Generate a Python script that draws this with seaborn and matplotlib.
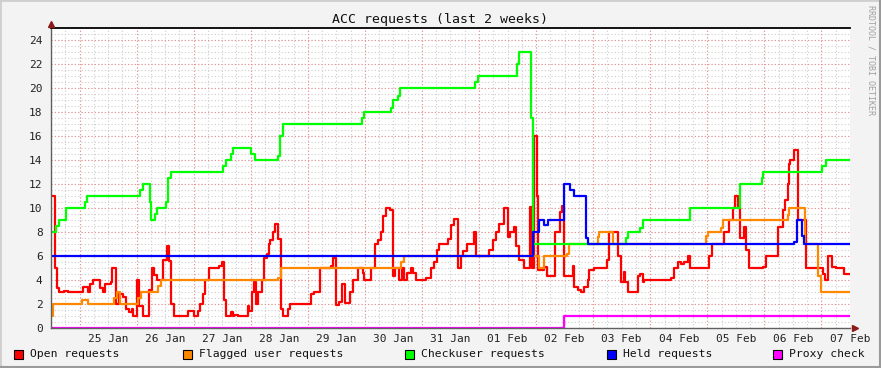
import numpy as np
import pandas as pd
import matplotlib
matplotlib.use("Agg")
import matplotlib.pyplot as plt
import seaborn as sns
from matplotlib.patches import Rectangle

# Time axis: hours since 24 Jan 12:00, two weeks long
span_h = 336
day_labels = ["25 Jan", "26 Jan", "27 Jan", "28 Jan", "29 Jan", "30 Jan", "31 Jan",
              "01 Feb", "02 Feb", "03 Feb", "04 Feb", "05 Feb", "06 Feb", "07 Feb"]

# Open requests (red)
open_t = [0, 1.7, 2.5, 3.5, 5.6, 7.0, 13.3, 15.7, 16.5, 17.5, 20.7, 21.7, 22.7, 25.2, 25.7,
          27.3, 28.7, 30.2, 31.5, 32.9, 34.1, 34.6, 36.2, 37.1, 38.6, 41.3, 42.3, 43.4, 44.4,
          47.2, 48.7, 49.7, 50.5, 51.9, 57.5, 60.3, 61.7, 62.7, 63.8, 64.8, 66.6, 70.8, 71.8,
          72.9, 73.6, 75.7, 76.7, 77.1, 78.5, 82.7, 83.4, 84.4, 85.5, 86.2, 87.2, 88.6, 89.7,
          90.7, 91.5, 92.2, 93.2, 94.2, 95.3, 96.7, 97.7, 99.8, 100.6, 109.3, 110.7, 113.1,
          117.7, 118.5, 119.8, 121.0, 122.4, 123.6, 125.7, 126.9, 129.0, 131.1, 131.7, 134.6,
          136.4, 137.4, 138.8, 139.7, 140.9, 142.6, 143.7, 144.7, 146.5, 147.6, 148.6, 149.6,
          151.4, 152.1, 153.5, 157.7, 159.8, 160.9, 162.3, 163.3, 166.8, 168.2, 169.3, 171.0,
          172.4, 173.1, 174.9, 178.0, 178.7, 184.3, 185.7, 187.1, 188.5, 190.6, 192.0, 193.1,
          194.8, 195.6, 196.9, 199.0, 201.6, 202.2, 203.2, 204.3, 204.9, 207.4, 208.5, 211.8,
          213.9, 214.9, 215.6, 219.4, 220.1, 221.7, 222.9, 224.3, 225.7, 226.4, 228.5, 233.8,
          234.8, 238.6, 239.7, 240.8, 241.5, 242.5, 247.0, 247.8, 248.8, 249.5, 260.7, 261.9,
          263.5, 264.9, 266.3, 268.0, 268.8, 276.8, 277.8, 282.9, 285.2, 286.6, 287.6, 288.8,
          289.9, 291.4, 292.4, 293.5, 299.3, 300.7, 305.6, 307.7, 308.8, 309.9, 310.3, 310.9,
          312.6, 314.3, 317.3, 324.5, 325.6, 326.6, 328.3, 330.1, 333.6]
open_v = [11, 5, 3.3, 3, 3.1, 3, 3.4, 3, 3.7, 4, 3.3, 3, 3.7, 3.8, 5,
          2, 2.8, 2.6, 1.6, 1.3, 1.6, 1, 4, 1.8, 1, 3.2, 5, 4.4, 4,
          5.7, 6.8, 5.6, 2, 1, 1.4, 1, 1.4, 2, 2.8, 4, 5, 5.2, 5.5,
          2.3, 1, 1.3, 1, 1.1, 1, 1.8, 1.4, 3, 3.8, 2, 3, 4, 5.8,
          6.2, 7, 7.3, 8, 8.7, 7.4, 1.6, 1, 1.6, 2, 2.8, 3, 5,
          5.2, 5.8, 1.9, 2.2, 3.7, 2.1, 3, 4, 5, 4.6, 4, 5,
          7, 7.3, 8, 9.3, 10, 9.8, 4.3, 5, 4, 5, 4, 4.6,
          5, 4.6, 4, 4.2, 5, 5.5, 6.5, 7, 7.4, 8.6, 9.1, 5,
          6, 6.4, 7, 8, 6, 6.5, 7.3, 8, 8.7, 10, 7.6, 8,
          8.4, 6.8, 5.7, 5, 10.1, 5, 16, 11, 4.8, 5.1, 4.3, 8,
          9.7, 10.2, 4.3, 5.2, 3.4, 3.2, 3, 3.4, 4, 4.8, 5, 5.7,
          8, 6, 3.8, 4.7, 3.8, 3, 4.3, 4.5, 3.8, 4, 4.2, 5,
          5.5, 5.3, 5.5, 6, 5, 6, 7, 8, 9, 10, 11, 10,
          7.5, 8.4, 6.5, 5, 5.1, 6, 8.4, 9.8, 10.7, 12, 13.7, 14,
          14.8, 9, 5, 4.5, 4, 6, 5.1, 5, 4.5]

# Flagged user requests (orange)
flagged_t = [0, 0.8, 13.2, 15.6, 26.5, 27.8, 29.0, 36.6, 37.8, 45.0, 46.3, 95.5, 96.8,
             147.2, 148.4, 205.3, 207.4, 217.0, 217.8, 230.0, 230.6, 236.2, 275.4, 276.3,
             281.8, 282.6, 309.9, 310.3, 317.1, 322.5, 323.8]
flagged_v = [1, 2, 2.3, 2, 2.5, 3, 2, 2.5, 3, 3.5, 4, 4.2, 5,
             5.5, 6, 5, 6, 6.2, 7, 7.6, 8, 7, 7.7, 8,
             8.3, 9, 9.4, 10, 7, 4.3, 3]

# Checkuser requests (green)
checkuser_t = [0, 2.1, 3.4, 6.3, 14.3, 15.1, 37.4, 38.7, 41.6, 42.1, 43.7, 44.6, 48.4, 49.2,
               50.5, 72.3, 73.6, 75.7, 76.5, 84.1, 85.8, 95.5, 96.3, 97.6, 130.8, 131.6,
               143.0, 143.8, 145.9, 146.8, 178.3, 179.6, 196.0, 196.8, 201.8, 202.7, 241.8,
               242.6, 247.7, 248.9, 268.7, 289.7, 299.0, 299.4, 324.2, 325.9]
checkuser_v = [8, 8.5, 9, 10, 10.5, 11, 11.5, 12, 10.5, 9, 9.5, 10, 10.5, 12.5,
               13, 13.5, 14, 14.5, 15, 14.5, 14, 14.3, 16, 17, 17.5, 18,
               18.3, 19, 19.3, 20, 20.5, 21, 22, 23, 17.5, 7, 7.5,
               8, 8.3, 9, 10, 12, 12.5, 13, 13.5, 14]

# Held requests (blue)
held_t = [0, 202.6, 205.3, 207.3, 208.9, 215.6, 218.4, 220.1, 225.0, 226.0, 312.6, 313.7, 315.7, 316.8]
held_v = [6, 8, 9, 8.6, 9, 12, 11.5, 11, 7.5, 7, 7.2, 9, 7.7, 7]

# Proxy check (magenta)
proxy_t = [0, 215.6]
proxy_v = [0, 1]

names = ["Open requests", "Flagged user requests", "Checkuser requests", "Held requests", "Proxy check"]
colors = ["#ff0000", "#ff8800", "#00ff00", "#0000ff", "#ff00ff"]


def series(name, t, v):
    # carry the last value through to the right edge of the graph
    return pd.DataFrame({"hours": list(t) + [span_h], "value": list(v) + [v[-1]], "series": name})


df = pd.concat([
    series(names[0], open_t, open_v),
    series(names[1], flagged_t, flagged_v),
    series(names[2], checkuser_t, checkuser_v),
    series(names[3], held_t, held_v),
    series(names[4], proxy_t, proxy_v),
], ignore_index=True)

sns.set_style("white")
plt.rcParams["font.family"] = ["DejaVu Sans Mono"]

fig = plt.figure(figsize=(8.81, 3.68), dpi=100, facecolor="#f3f3f3")
ax = fig.add_axes([51 / 881, 40 / 368, 799 / 881, 300 / 368])
ax.set_facecolor("white")
ax.set_xlim(0, span_h)
ax.set_ylim(0, 25)

# grid: minor every 6 h / 0.5, major at midnight / every 2
dot = (0, (1, 2))
for h in np.arange(6, span_h, 6):
    ax.axvline(h, color="#cccccc", lw=0.8, ls=dot, zorder=0)
for y in np.arange(0.5, 25, 0.5):
    ax.axhline(y, color="#cccccc", lw=0.8, ls=dot, zorder=0)
for h in np.arange(12, span_h, 24):
    ax.axvline(h, color="#f09090", lw=0.8, ls=dot, zorder=0.5)
for y in np.arange(2, 25, 2):
    ax.axhline(y, color="#f09090", lw=0.8, ls=dot, zorder=0.5)

sns.lineplot(data=df, x="hours", y="value", hue="series", hue_order=names,
             palette=dict(zip(names, colors)), drawstyle="steps-post", lw=1.6,
             estimator=None, sort=False, legend=False, ax=ax)

ax.set_xlabel("")
ax.set_ylabel("")
ax.set_yticks(np.arange(0, 25, 2))
ax.set_xticks(np.arange(24, span_h + 1, 24))
ax.set_xticklabels(day_labels)
ax.tick_params(axis="both", labelsize=8, colors="#222222", length=0, pad=4)
ax.tick_params(axis="y", pad=6)

ax.spines["right"].set_visible(False)
ax.spines["top"].set_color("black")
ax.spines["top"].set_linewidth(1.3)
ax.spines["left"].set_color("#606060")
ax.spines["bottom"].set_color("#606060")
ax.spines["left"].set_linewidth(1)
ax.spines["bottom"].set_linewidth(1)

# axis arrows
ax.plot([0], [25.35], marker="^", ms=5, color="#8b1a1a", clip_on=False, zorder=5)
ax.plot([span_h + 2.3], [0], marker=">", ms=5, color="#8b1a1a", clip_on=False, zorder=5)

fig.text(440 / 881, 1 - 19 / 368, "ACC requests (last 2 weeks)", ha="center", va="center",
         fontsize=9.5, color="#111111")
fig.text(871 / 881, 1 - 60 / 368, "RRDTOOL / TOBI OETIKER", rotation=270, ha="center",
         va="center", fontsize=6, color="#a0a0a0")

# legend along the bottom
legend_x = [14, 183, 405, 607, 773]
for x, name, c in zip(legend_x, names, colors):
    fig.patches.append(Rectangle((x / 881, (368 - 359) / 368), 9 / 881, 9 / 368,
                                 transform=fig.transFigure, facecolor=c,
                                 edgecolor="black", lw=0.8))
    fig.text((x + 16) / 881, (368 - 354) / 368, name, ha="left", va="center",
             fontsize=8.2, color="#111111")

# outer frame
fig.patches.append(Rectangle((0, 0), 1, 1, transform=fig.transFigure, fill=False,
                             edgecolor="#cfcfcf", lw=2))
fig.lines.append(plt.Line2D([0, 1], [0.002, 0.002], transform=fig.transFigure,
                            color="#9a9a9a", lw=1.5))
fig.lines.append(plt.Line2D([0.999, 0.999], [0, 1], transform=fig.transFigure,
                            color="#9a9a9a", lw=1.5))

fig.savefig("out.png", dpi=100, facecolor=fig.get_facecolor())
